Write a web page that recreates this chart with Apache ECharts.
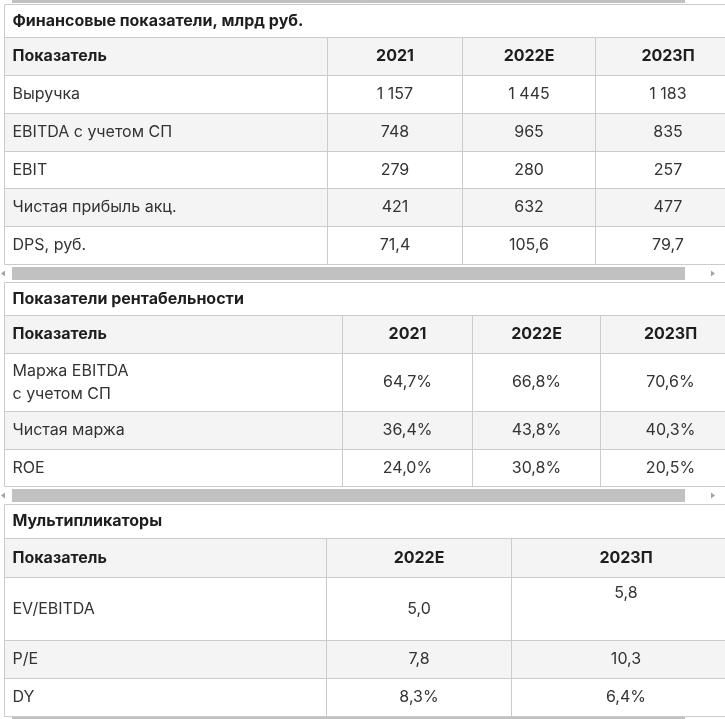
<!DOCTYPE html>
<html>
<head>
<meta charset="utf-8">
<script src="https://cdn.jsdelivr.net/npm/echarts@6/dist/echarts.min.js"></script>
<style>
	html, body { margin: 0; padding: 0; background: #fff; }
	#chart { width: 725px; height: 719px; }
</style>
</head>
<body>
<div id="chart"></div>
<script>
	// таблица 1
	var finTitle = 'Финансовые показатели, млрд руб.';
	var finCols = ['Показатель', '2021', '2022E', '2023П'];
	var finRows = ['Выручка', 'EBITDA с учетом СП', 'EBIT', 'Чистая прибыль акц.', 'DPS, руб.'];
	var fin2021 = [1157, 748, 279, 421, 71.4];
	var fin2022 = [1445, 965, 280, 632, 105.6];
	var fin2023 = [1183, 835, 257, 477, 79.7];
	var finDigits = [0, 0, 0, 0, 1];

	// таблица 2
	var rentTitle = 'Показатели рентабельности';
	var rentCols = ['Показатель', '2021', '2022E', '2023П'];
	var rentRows = ['Маржа EBITDA\nс учетом СП', 'Чистая маржа', 'ROE'];
	var rent2021 = [64.7, 36.4, 24.0];
	var rent2022 = [66.8, 43.8, 30.8];
	var rent2023 = [70.6, 40.3, 20.5];

	// таблица 3
	var multTitle = 'Мультипликаторы';
	var multCols = ['Показатель', '2022E', '2023П'];
	var multRows = ['EV/EBITDA', 'P/E', 'DY'];
	var mult2022 = [5.0, 7.8, 8.3];
	var mult2023 = [5.8, 10.3, 6.4];
	var multPct = [false, false, true];

	function fmt(v, digits, pct) {
		var s = v.toFixed(digits).split('.');
		var ip = s[0].replace(/\B(?=(\d{3})+(?!\d))/g, ' ');
		var out = s.length > 1 ? ip + ',' + s[1] : ip;
		return pct ? out + '%' : out;
	}

	var GRAY = '#f4f4f4';
	var LINE = '#cbcbcb';

	var tables = [
		{
			title: finTitle, cols: finCols, rows: finRows,
			cells: finRows.map(function (r, i) {
				return [fin2021[i], fin2022[i], fin2023[i]].map(function (v) { return fmt(v, finDigits[i], false); });
			}),
			colX: [4, 327, 462, 595, 740],
			rowY: [4, 37, 75, 113, 151, 188, 226, 264]
		},
		{
			title: rentTitle, cols: rentCols, rows: rentRows,
			cells: rentRows.map(function (r, i) {
				return [rent2021[i], rent2022[i], rent2023[i]].map(function (v) { return fmt(v, 1, true); });
			}),
			colX: [4, 342, 472, 600, 740],
			rowY: [282, 315, 353, 411, 449, 486]
		},
		{
			title: multTitle, cols: multCols, rows: multRows,
			cells: multRows.map(function (r, i) {
				return [mult2022[i], mult2023[i]].map(function (v) { return fmt(v, 1, multPct[i]); });
			}),
			colX: [4, 326, 511, 740],
			rowY: [504, 538, 577, 640, 678, 716],
			topCell: [0, 1]   // 5,8 прижато к верху ячейки
		}
	];

	var cells = [];
	tables.forEach(function (t) {
		var y = t.rowY;
		var last = t.colX[t.colX.length - 1];
		cells.push({ x0: 4, x1: last, y0: y[0], y1: y[1], fill: '#fff', text: t.title, weight: 700, align: 'left' });
		t.cols.forEach(function (c, j) {
			cells.push({ x0: t.colX[j], x1: t.colX[j + 1], y0: y[1], y1: y[2], fill: GRAY, text: c, weight: 700, align: j === 0 ? 'left' : 'center' });
		});
		t.rows.forEach(function (r, i) {
			var fill = i % 2 === 1 ? GRAY : '#fff';
			cells.push({ x0: t.colX[0], x1: t.colX[1], y0: y[i + 2], y1: y[i + 3], fill: fill, text: r, weight: 400, align: 'left' });
			t.cells[i].forEach(function (v, j) {
				var top = t.topCell && t.topCell[0] === i && t.topCell[1] === j;
				cells.push({ x0: t.colX[j + 1], x1: t.colX[j + 2], y0: y[i + 2], y1: y[i + 3], fill: fill, text: v, weight: 400, align: 'center', top: top });
			});
		});
	});

	var chart = echarts.init(document.getElementById('chart'));

	function scrollbar(y) {
		return [
			{ type: 'rect', shape: { x: 12, y: y, width: 673, height: 13 }, style: { fill: '#c1c1c1' } },
			{ type: 'polygon', shape: { points: [[1, y + 6.5], [5, y + 3.5], [5, y + 9.5]] }, style: { fill: '#a3a3a3' } },
			{ type: 'polygon', shape: { points: [[715, y + 6.5], [711, y + 3.5], [711, y + 9.5]] }, style: { fill: '#a3a3a3' } }
		];
	}

	var option = {
		animation: false,
		grid: { left: 0, right: 0, top: 0, bottom: 0 },
		xAxis: { type: 'value', min: 0, max: 725, show: false },
		yAxis: { type: 'value', min: 0, max: 719, inverse: true, show: false },
		graphic: [].concat(
			[{ type: 'rect', shape: { x: 12, y: 0, width: 673, height: 3 }, style: { fill: '#c1c1c1' } }],
			scrollbar(267),
			scrollbar(489),
			[{ type: 'rect', shape: { x: 12, y: 717, width: 673, height: 2 }, style: { fill: '#c1c1c1' } }]
		),
		series: [{
			type: 'custom',
			coordinateSystem: 'cartesian2d',
			data: cells.map(function (c) { return [c.x0, c.y0, c.x1, c.y1]; }),
			renderItem: function (params, api) {
				var c = cells[params.dataIndex];
				var p0 = api.coord([api.value(0), api.value(1)]);
				var p1 = api.coord([api.value(2), api.value(3)]);
				var x0 = Math.round(p0[0]) + 0.5, y0 = Math.round(p0[1]) + 0.5;
				var x1 = Math.round(p1[0]) + 0.5, y1 = Math.round(p1[1]) + 0.5;
				var tx = c.align === 'left' ? x0 + 8 : (x0 + x1) / 2;
				var ty = c.top ? y0 + 16 : (y0 + y1) / 2;
				return {
					type: 'group',
					children: [
						{ type: 'rect', shape: { x: x0, y: y0, width: x1 - x0, height: y1 - y0 },
							style: { fill: c.fill, stroke: LINE, lineWidth: 1 } },
						{ type: 'text', style: {
							text: c.text, x: tx, y: ty, align: c.align, verticalAlign: 'middle',
							font: c.weight + ' 16px Inter', lineHeight: 23,
							fill: c.weight > 400 ? '#1e1e1e' : '#333333'
						} }
					]
				};
			}
		}]
	};

	chart.setOption(option);
</script>
</body>
</html>
